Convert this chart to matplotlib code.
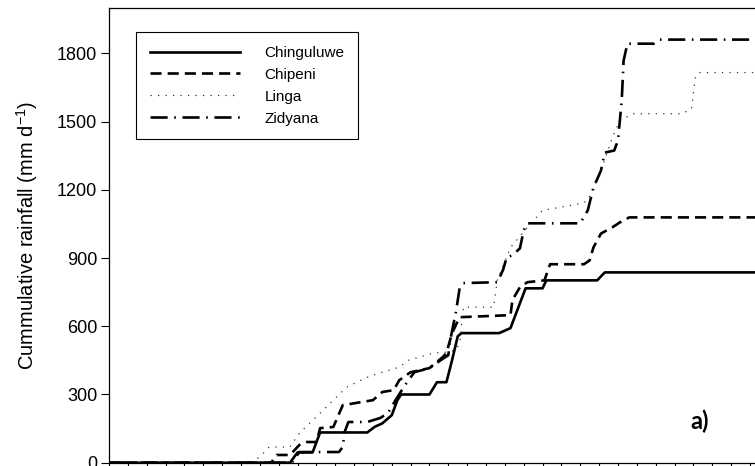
import numpy as np
import matplotlib
matplotlib.use("Agg")
import matplotlib.pyplot as plt

plt.rcParams['font.family'] = ['Liberation Sans', 'DejaVu Sans']

# Cumulative rainfall per site (day of season, mm)
chinguluwe_day = [0, 96, 100, 108, 112, 137, 141, 145, 150, 153, 155, 170, 174, 179, 182,
                  185, 187, 207, 213, 221, 230, 232, 259, 263, 360]
chinguluwe_mm = [0, 0, 45, 45, 133, 133, 158, 173, 209, 275, 300, 300, 354, 354, 451,
                 556, 570, 570, 592, 767, 767, 802, 802, 837, 837]

chipeni_day = [0, 86, 89, 96, 101, 105, 110, 112, 119, 124, 140, 145, 151, 154, 160, 170,
               177, 179, 182, 186, 213, 214, 218, 222, 231, 234, 252, 255, 257, 261, 267,
               271, 276, 360]
chipeni_mm = [0, 0, 34, 34, 78, 91, 91, 152, 157, 253, 275, 311, 319, 363, 398, 416,
              464, 482, 570, 640, 649, 715, 772, 794, 802, 873, 873, 890, 947, 1008, 1035,
              1057, 1079, 1079]

linga_day = [0, 76, 81, 85, 96, 101, 112, 126, 137, 145, 154, 159, 172, 179, 184, 186,
             188, 204, 206, 213, 222, 230, 239, 251, 254, 261, 267, 271, 278, 304, 309,
             311, 313, 360]
linga_mm = [0, 0, 34, 69, 69, 130, 218, 332, 376, 398, 420, 451, 482, 486, 495, 526,
            684, 684, 802, 947, 1035, 1110, 1123, 1141, 1154, 1285, 1430, 1505, 1535, 1535,
            1557, 1693, 1716, 1716]

zidyana_day = [0, 97, 101, 122, 124, 125, 127, 137, 144, 148, 152, 157, 162, 170, 176,
               180, 181, 184, 186, 188, 206, 209, 211, 214, 218, 220, 222, 250, 254, 257,
               261, 263, 268, 270, 272, 273, 275, 289, 292, 360]
zidyana_mm = [0, 0, 47, 47, 69, 135, 179, 179, 197, 218, 275, 341, 398, 416, 451,
              473, 538, 661, 767, 790, 794, 847, 904, 912, 943, 1022, 1053, 1053, 1110, 1210,
              1285, 1364, 1373, 1417, 1593, 1769, 1843, 1843, 1861, 1861]

yticks = [0, 300, 600, 900, 1200, 1500, 1800]

fig = plt.figure(figsize=(7.55, 4.66), dpi=100)
# axes run past the right edge of the figure
ax = fig.add_axes([109 / 755, 3.3 / 466, 678.6 / 755, 454.7 / 466])

ax.plot(chinguluwe_day, chinguluwe_mm, color='black', lw=1.9, ls='-', label='Chinguluwe')
ax.plot(chipeni_day, chipeni_mm, color='black', lw=1.9, ls=(0, (4.2, 2.3)), label='Chipeni')
ax.plot(linga_day, linga_mm, color='#333333', lw=0.9, ls=(0, (1, 5)), label='Linga')
ax.plot(zidyana_day, zidyana_mm, color='black', lw=1.9, ls=(0, (6.5, 2.5, 0.6, 2.5)),
        label='Zidyana')

ax.set_xlim(0, 360)
ax.set_ylim(0, 2000)
ax.set_xticks(np.arange(0, 361, 10))
ax.tick_params(axis='x', labelbottom=False, direction='out', length=4, width=0.8)
ax.set_yticks(yticks)
ax.tick_params(axis='y', direction='out', length=5.5, width=0.8, labelsize=13, pad=3)
for s in ax.spines.values():
    s.set_linewidth(0.9)

ax.set_ylabel(r'Cummulative rainfall (mm d$^{\mathregular{-1}}$)', fontsize=14.5, labelpad=12)

leg = ax.legend(loc='upper left', bbox_to_anchor=(0.0398, 0.947), borderaxespad=0,
                fontsize=11, handlelength=5.9, handletextpad=1.6, labelspacing=0.52,
                borderpad=0.9, fancybox=False, framealpha=1)
leg.get_frame().set_edgecolor('black')
leg.get_frame().set_linewidth(0.8)

ax.text(0.871, 0.09, 'a)', transform=ax.transAxes, fontsize=17, fontweight='bold',
        ha='center', va='center', family=['Lato', 'DejaVu Sans'])

fig.savefig('out.png', dpi=100)
